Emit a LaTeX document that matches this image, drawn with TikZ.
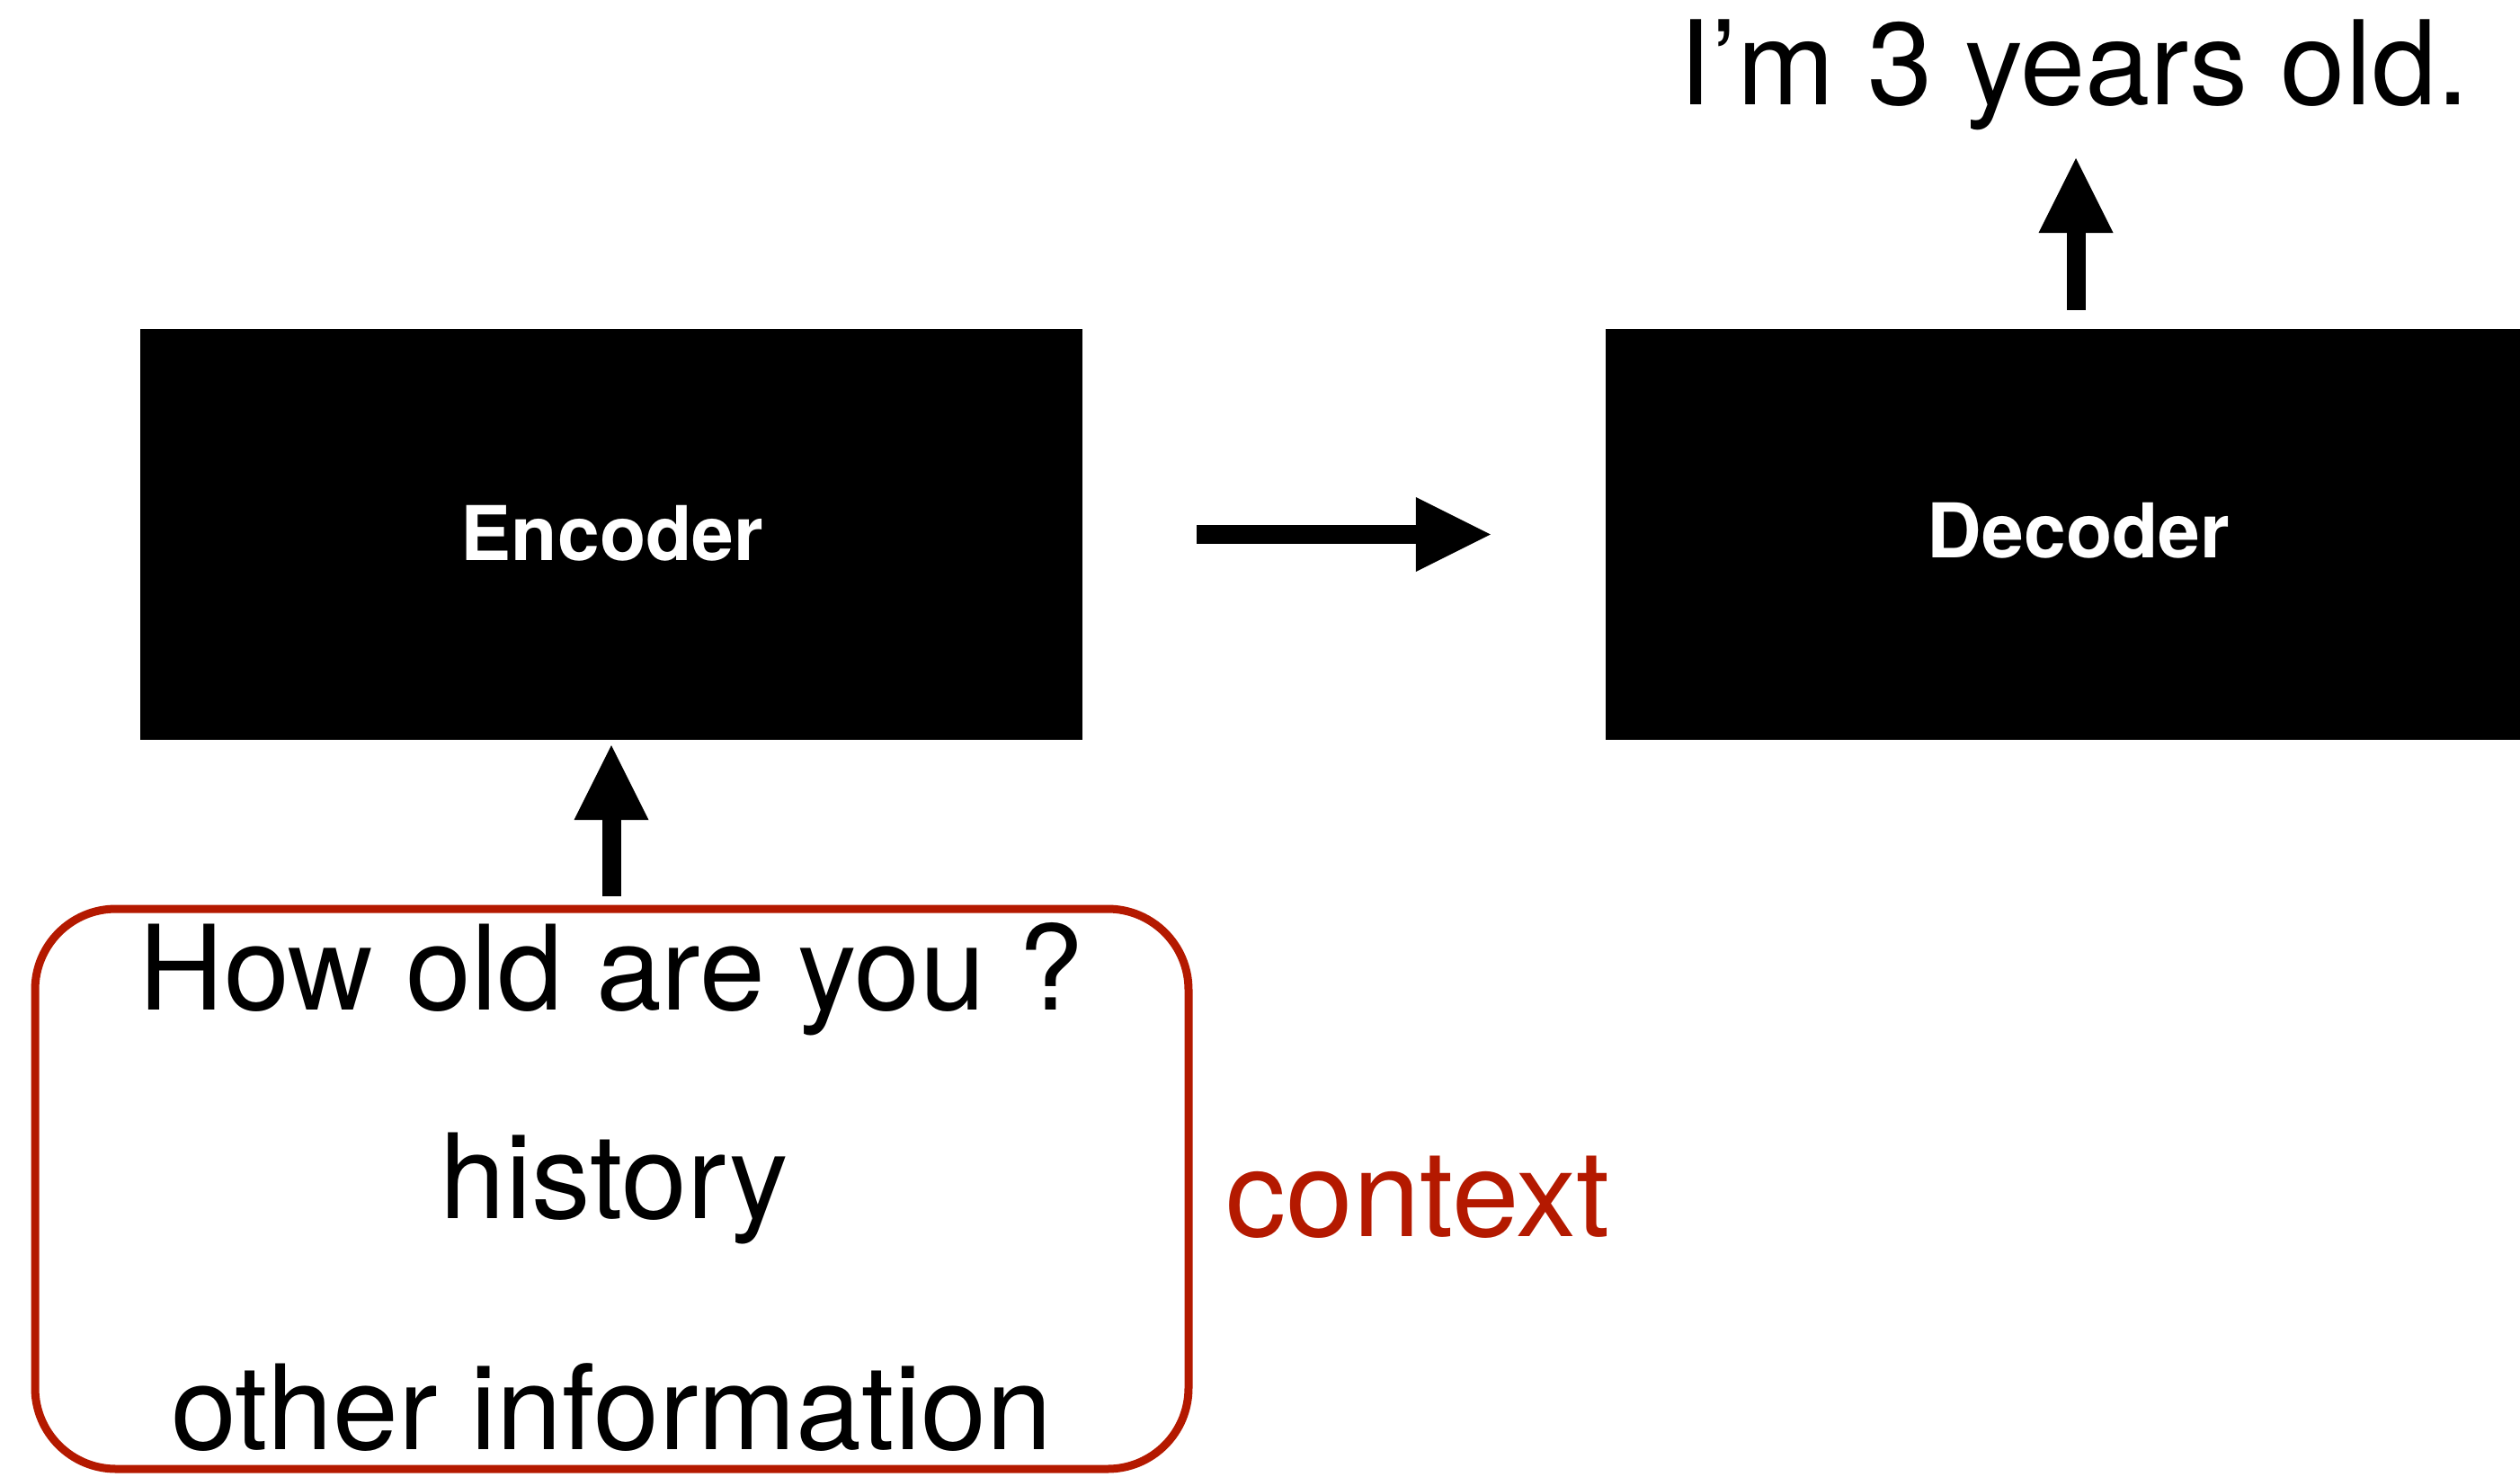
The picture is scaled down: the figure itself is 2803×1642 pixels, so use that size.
\documentclass[tikz,border=0pt]{standalone}
\usepackage{fontspec}
\setmainfont{TeX Gyre Heros}
\usetikzlibrary{arrows.meta}
\definecolor{ctxred}{RGB}{180,25,0}
\tikzset{
  blackbox/.style={fill=black, draw=none, inner sep=0pt, minimum width=1048pt, minimum height=457pt},
  boxlabel/.style={text=white, inner sep=0pt, anchor=base, font=\fontsize{84pt}{100pt}\selectfont\bfseries},
  bigtext/.style={inner sep=0pt, anchor=base, font=\fontsize{131pt}{150pt}\selectfont},
  ctxbox/.style={draw=ctxred, line width=9pt, rounded corners=90pt, inner sep=0pt, minimum width=1283pt, minimum height=623pt},
  fatarrow/.style={line width=21pt, -{Triangle[length=83pt,width=83pt,line width=0pt]}}
}
\begin{document}
\begin{tikzpicture}[x=1pt,y=-1pt]
\useasboundingbox (0,0) rectangle (2803,1642);
\node[blackbox] (enc) at (680,594.5) {};
\node[blackbox] (dec) at (2310,594.5) {};
\node[boxlabel] (enct) at (681,623) {Encoder};
\node[boxlabel] (dect) at (2312,620) {Decoder};
\node[ctxbox] (ctx) at (680.5,1322.5) {};
\node[bigtext] (q) at (680,1123) {How old are you ?};
\node[bigtext] (hist) at (683,1355) {history};
\node[bigtext] (oth) at (680,1612) {other information};
\node[bigtext, text=ctxred, font=\fontsize{134pt}{150pt}\selectfont] (ctxl) at (1577,1375) {context};
\node[bigtext, font=\fontsize{130pt}{150pt}\selectfont] (ans) at (2307,116) {I’m 3 years old.};
\coordinate (inbot) at (680,997);
\coordinate (outtop) at (2309,176);
\draw[fatarrow] (inbot) -- ([yshift=-6pt]enc.south);
\draw[fatarrow] ([xshift=127pt]enc.east) -- ([xshift=-128pt]dec.west);
\draw[fatarrow] (dec.north -| outtop) ++(0,-21) -- (outtop);
\end{tikzpicture}
\end{document}
